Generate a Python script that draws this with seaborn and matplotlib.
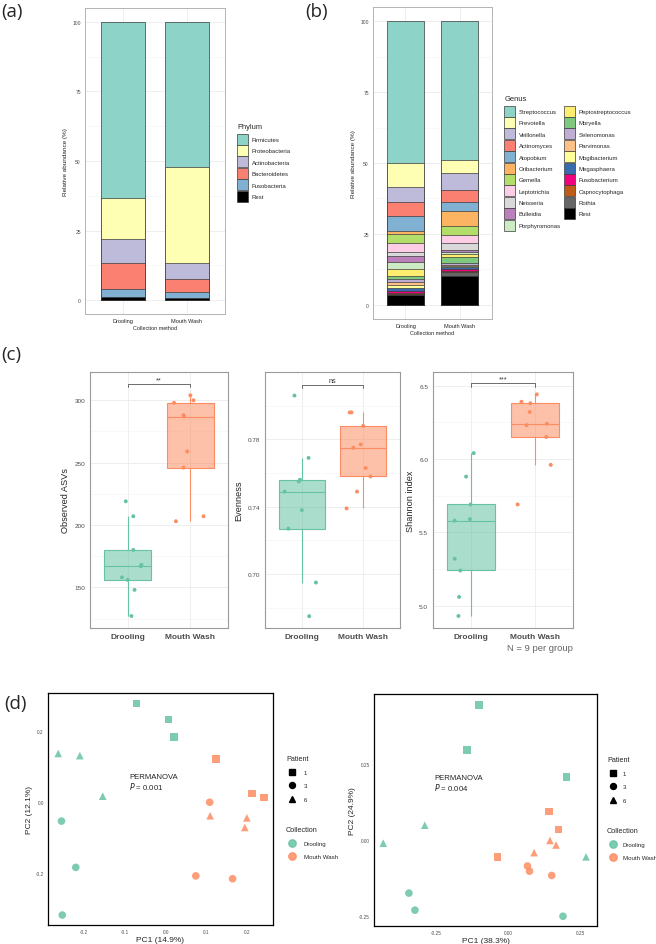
import matplotlib
matplotlib.use('Agg')
import matplotlib.pyplot as plt
from matplotlib.colors import to_rgba
from matplotlib.lines import Line2D
from matplotlib.patches import Patch
from matplotlib.ticker import FixedLocator, FuncFormatter
import numpy as np
import pandas as pd
import seaborn as sns

sns.set_theme(style='white')
plt.rcParams['font.family'] = ['Liberation Sans', 'DejaVu Sans']

# ---------------- data ----------------
methods = ["Drooling", "Mouth Wash"]
pal = ["#66C2A5", "#FC8D62"]

# (a) phylum, top to bottom of the stack
phyla = ["Firmicutes", "Proteobacteria", "Actinobacteria", "Bacteroidetes", "Fusobacteria", "Rest"]
phylum_drool = [63.2, 14.8, 8.6, 9.3, 3.0, 1.1]
phylum_mouth = [52.2, 34.4, 5.9, 4.5, 2.2, 0.8]
phylum_colors = ["#8DD3C7", "#FFFFB3", "#BEBADA", "#FB8072", "#80B1D3", "#000000"]

# (b) genus, top to bottom of the stack
genera = ["Streptococcus", "Prevotella", "Veillonella", "Actinomyces", "Atopobium",
          "Oribacterium", "Gemella", "Leptotrichia", "Neisseria", "Bulleidia",
          "Porphyromonas", "Peptostreptococcus", "Moryella", "Selenomonas", "Parvimonas",
          "Mogibacterium", "Megasphaera", "Fusobacterium", "Capnocytophaga", "Rothia", "Rest"]
genus_drool = [50.0, 8.4, 5.2, 5.2, 5.1, 1.2, 3.2, 3.0, 1.4, 2.3, 2.2, 2.6, 1.1, 1.0, 1.0,
               1.1, 1.2, 0.6, 0.5, 0.3, 3.4]
genus_mouth = [49.1, 4.4, 6.1, 4.2, 3.0, 5.3, 3.3, 2.9, 2.3, 0.9, 0.7, 0.8, 2.3, 0.5, 0.5,
               0.4, 0.5, 0.8, 0.6, 1.2, 10.2]
genus_colors = ["#8DD3C7", "#FFFFB3", "#BEBADA", "#FB8072", "#80B1D3", "#FDB462", "#B3DE69",
                "#FCCDE5", "#D9D9D9", "#BC80BD", "#CCEBC5", "#FFED6F", "#7FC97F", "#BEAED4",
                "#FDC086", "#FFFF99", "#386CB0", "#F0027F", "#BF5B17", "#666666", "#000000"]

# (c) alpha diversity, 9 samples per group; jitter = x offset
asv_drool = [219, 207, 180, 168, 167, 158, 156, 148, 127]
asv_mouth = [304, 300, 298, 288, 287, 259, 246, 207, 203]
asv_jit_drool = [-0.03, 0.09, 0.09, 0.22, 0.21, -0.09, 0.0, 0.11, 0.06]
asv_jit_mouth = [0.0, 0.05, -0.26, -0.11, -0.10, -0.05, -0.11, 0.21, -0.23]

even_drool = [0.806, 0.769, 0.756, 0.755, 0.749, 0.738, 0.727, 0.695, 0.675]
even_mouth = [0.796, 0.796, 0.788, 0.777, 0.775, 0.763, 0.758, 0.749, 0.739]
even_jit_drool = [-0.12, 0.11, -0.03, -0.05, -0.28, 0.0, -0.22, 0.23, 0.12]
even_jit_mouth = [-0.22, -0.19, 0.0, -0.04, -0.16, 0.04, 0.12, -0.10, -0.27]

shan_drool = [6.04, 5.88, 5.69, 5.59, 5.58, 5.32, 5.24, 5.06, 4.93]
shan_mouth = [6.44, 6.39, 6.38, 6.32, 6.24, 6.23, 6.15, 5.96, 5.69]
shan_jit_drool = [0.04, -0.08, -0.01, -0.02, -0.26, -0.26, -0.17, -0.19, -0.20]
shan_jit_mouth = [0.03, -0.21, -0.07, -0.08, 0.19, -0.13, 0.18, 0.25, -0.27]

# (d) PCoA
patients = ["1", "3", "6"]
patient_markers = {"1": "s", "3": "o", "6": "^"}
l_pc1_drool = [-0.071, 0.007, 0.020, -0.263, -0.210, -0.154, -0.255, -0.220, -0.253]
l_pc2_drool = [0.277, 0.232, 0.184, 0.137, 0.131, 0.017, -0.053, -0.183, -0.317]
l_pat_drool = ["1", "1", "1", "6", "6", "6", "3", "3", "3"]
l_pc1_mouth = [0.123, 0.211, 0.241, 0.108, 0.109, 0.199, 0.194, 0.074, 0.164]
l_pc2_mouth = [0.121, 0.025, 0.013, 0.000, -0.038, -0.044, -0.071, -0.207, -0.215]
l_pat_mouth = ["1", "1", "1", "3", "6", "6", "6", "3", "3"]

r_pc1_drool = [-0.100, -0.143, 0.202, -0.289, -0.433, 0.270, -0.344, -0.323, 0.190]
r_pc2_drool = [0.444, 0.297, 0.208, 0.049, -0.010, -0.055, -0.174, -0.230, -0.250]
r_pat_drool = ["1", "1", "1", "6", "6", "6", "3", "3", "3"]
r_pc1_mouth = [0.142, 0.175, -0.037, 0.145, 0.166, 0.090, 0.067, 0.074, 0.151]
r_pc2_mouth = [0.094, 0.035, -0.056, -0.001, -0.016, -0.041, -0.085, -0.102, -0.116]
r_pat_mouth = ["1", "1", "1", "6", "6", "6", "3", "3", "3"]

# ---------------- figure ----------------
W, H = 656, 945
fig = plt.figure(figsize=(W / 100, H / 100), dpi=100)


def add_ax(l, t, r, b):
    return fig.add_axes([l / W, 1 - b / H, (r - l) / W, (b - t) / H])


def ggframe(ax, border='#b3b3b3', lw=0.7):
    for s in ax.spines.values():
        s.set_visible(True)
        s.set_color(border)
        s.set_linewidth(lw)
    ax.set_axisbelow(True)
    ax.grid(True, which='major', color='#ebebeb', linewidth=0.6)
    ax.grid(True, which='minor', color='#f4f4f4', linewidth=0.4)


def stacked_bars(ax, taxa, drool, mouth, colors):
    tops_d = np.cumsum(drool[::-1])[::-1]
    tops_m = np.cumsum(mouth[::-1])[::-1]
    for i in range(len(taxa)):
        sns.barplot(x=methods, y=[tops_d[i], tops_m[i]], color=colors[i], saturation=1,
                    width=0.7, edgecolor='#3a3a3a', linewidth=0.5, ax=ax, zorder=2)
    ax.set_xlim(-0.6, 1.6)
    ax.set_ylim(-5, 105)
    ax.yaxis.set_major_locator(FixedLocator([0, 25, 50, 75, 100]))
    ax.yaxis.set_minor_locator(FixedLocator([12.5, 37.5, 62.5, 87.5]))
    ggframe(ax)
    ax.tick_params(axis='both', labelsize=3.6, colors='#4d4d4d', length=1.5, width=0.4, pad=1.5)
    ax.tick_params(axis='x', labelcolor='#222222', labelsize=4.0)
    ax.set_ylabel("Relative abundance (%)", fontsize=4.6, labelpad=3)
    ax.set_xlabel("Collection method", fontsize=4.0, labelpad=1)


def taxa_legend(colors, labels, title, x, y, ncol):
    handles = [Patch(facecolor=c, edgecolor='#3a3a3a', linewidth=0.5) for c in colors]
    leg = fig.legend(handles, labels, title=title, loc='upper left', ncol=ncol,
                     bbox_to_anchor=(x / W, 1 - y / H), frameon=False, fontsize=4.3,
                     title_fontsize=5.4, alignment='left', handlelength=1.85,
                     handleheight=2.45, labelspacing=0.07, handletextpad=0.55,
                     columnspacing=0.6, borderpad=0.2)
    leg._legend_box.sep = 2.5   # a bit more room under the title, like ggplot


# (a)
ax_a = add_ax(85, 9, 225, 315)
stacked_bars(ax_a, phyla, phylum_drool, phylum_mouth, phylum_colors)
taxa_legend(phylum_colors, phyla, "Phylum", 233, 120, 1)

# (b)
ax_b = add_ax(373, 8, 492, 320)
stacked_bars(ax_b, genera, genus_drool, genus_mouth, genus_colors)
taxa_legend(genus_colors, genera, "Genus", 500, 92, 2)


# (c)
def alpha_panel(ax, drool, mouth, jit_d, jit_m, ylabel, ylim, major, minor, star):
    df = pd.DataFrame({
        'method': [methods[0]] * len(drool) + [methods[1]] * len(mouth),
        'value': drool + mouth,
        'xpos': [0 + j for j in jit_d] + [1 + j for j in jit_m],
    })
    for i, m in enumerate(methods):
        sub = df[df['method'] == m]
        sns.boxplot(data=sub, x='method', y='value', order=methods, color=pal[i],
                    linecolor=pal[i], width=0.75, showcaps=False, showfliers=False,
                    linewidth=0.8, saturation=1, ax=ax)
        ax.patches[-1].set_facecolor(to_rgba(pal[i], 0.55))
    sns.scatterplot(data=df, x='xpos', y='value', hue='method', palette=pal, s=8,
                    linewidth=0, legend=False, ax=ax, zorder=3)
    ax.set_xlim(-0.6, 1.6)
    ax.set_ylim(*ylim)
    ax.yaxis.set_major_locator(FixedLocator(major))
    ax.yaxis.set_minor_locator(FixedLocator(minor))
    ax.set_xticks([0, 1])
    ax.set_xticklabels(methods)
    ggframe(ax, border='#9a9a9a', lw=0.8)
    ax.tick_params(axis='y', labelsize=4.6, colors='#4d4d4d', length=2, width=0.5, pad=1.5)
    ax.tick_params(axis='x', labelsize=6.0, colors='#4d4d4d', length=2, width=0.5, pad=1.5)
    for t in ax.get_xticklabels():
        t.set_fontweight('bold')
    ax.set_xlabel("")
    ax.set_ylabel(ylabel, fontsize=6.6, labelpad=3)
    # significance bracket above the highest point
    span = ylim[1] - ylim[0]
    yb = max(drool + mouth) + 0.043 * span
    tick = 0.012 * span
    ax.plot([0, 0, 1, 1], [yb - tick, yb, yb, yb - tick], color='#555555', lw=0.6)
    ax.text(0.5, yb + 0.004 * span, star, ha='center', va='bottom', fontsize=5.2, color='#333333')


ax_c1 = add_ax(90, 373, 228, 629)
alpha_panel(ax_c1, asv_drool, asv_mouth, asv_jit_drool, asv_jit_mouth, "Observed ASVs",
            (117.4, 322.7), [150, 200, 250, 300], [125, 175, 225, 275, 325], "**")
ax_c2 = add_ax(265, 373, 400, 629)
alpha_panel(ax_c2, even_drool, even_mouth, even_jit_drool, even_jit_mouth, "Evenness",
            (0.668, 0.820), [0.70, 0.74, 0.78], [0.68, 0.72, 0.76, 0.80], "ns")
ax_c3 = add_ax(433, 373, 573, 629)
alpha_panel(ax_c3, shan_drool, shan_mouth, shan_jit_drool, shan_jit_mouth, "Shannon index",
            (4.848, 6.593), [5.0, 5.5, 6.0, 6.5], [5.25, 5.75, 6.25], "***")
ax_c3.set_xlabel("N = 9 per group", loc='right', fontsize=6.8, color='#666666', labelpad=2)
ax_c2.yaxis.set_major_formatter(FuncFormatter(lambda v, p: f"{v:.2f}"))
ax_c3.yaxis.set_major_formatter(FuncFormatter(lambda v, p: f"{v:.1f}"))


# (d)
def pcoa_panel(ax, pc1_d, pc2_d, pat_d, pc1_m, pc2_m, pat_m, xlim, ylim, xt, yt, fmt,
               xlabel, ylabel, ptext):
    df = pd.DataFrame({
        'PC1': pc1_d + pc1_m,
        'PC2': pc2_d + pc2_m,
        'Patient': pat_d + pat_m,
        'Collection': [methods[0]] * len(pc1_d) + [methods[1]] * len(pc1_m),
    })
    sns.scatterplot(data=df, x='PC1', y='PC2', hue='Collection', style='Patient',
                    palette=pal, markers=patient_markers, s=30, alpha=0.85, linewidth=0,
                    legend=False, ax=ax)
    ax.set_xlim(*xlim)
    ax.set_ylim(*ylim)
    ax.set_xticks(xt)
    ax.set_yticks(yt)
    ax.xaxis.set_major_formatter(FuncFormatter(lambda v, p: fmt % v))
    ax.yaxis.set_major_formatter(FuncFormatter(lambda v, p: fmt % v))
    for s in ax.spines.values():
        s.set_visible(True)
        s.set_color('black')
        s.set_linewidth(0.9)
    ax.grid(False)
    ax.tick_params(axis='both', labelsize=3.4, colors='#4d4d4d', length=1.5, width=0.4, pad=1.5)
    ax.set_xlabel(xlabel, fontsize=6.0, labelpad=1)
    ax.set_ylabel(ylabel, fontsize=6.0, labelpad=2)
    ax.text(ptext[0], ptext[1], "PERMANOVA", transform=ax.transAxes, fontsize=5.6,
            ha='left', va='center')
    ax.text(ptext[0], ptext[1] - 0.04, ptext[2], transform=ax.transAxes, fontsize=5.6,
            ha='left', va='center')


def pcoa_legend(x, y, textpad):
    opts = dict(loc='upper left', frameon=False, fontsize=4.4, title_fontsize=5.2,
                alignment='left', handlelength=2.0, handletextpad=textpad,
                labelspacing=1.3, borderpad=0)
    pat_h = [Line2D([], [], linestyle='none', marker=patient_markers[p], color='black',
                    markersize=4.3) for p in patients]
    fig.legend(pat_h, patients, title="Patient", bbox_to_anchor=(x / W, 1 - y / H), **opts)
    col_h = [Line2D([], [], linestyle='none', marker='o', color=c, alpha=0.85,
                    markersize=5.3) for c in pal]
    fig.legend(col_h, methods, title="Collection",
               bbox_to_anchor=(x / W, 1 - (y + 71) / H), **opts)


ax_d1 = add_ax(48, 694, 273, 926)
pcoa_panel(ax_d1, l_pc1_drool, l_pc2_drool, l_pat_drool, l_pc1_mouth, l_pc2_mouth, l_pat_mouth,
           (-0.288, 0.263), (-0.345, 0.307), [-0.2, -0.1, 0.0, 0.1, 0.2], [-0.2, 0.0, 0.2],
           "%.1f", "PC1 (14.9%)", "PC2 (12.1%)", (0.36, 0.64, r"$\it{P}$ = 0.001"))
pcoa_legend(283, 753, 0.9)

ax_d2 = add_ax(374, 695, 597, 927)
pcoa_panel(ax_d2, r_pc1_drool, r_pc2_drool, r_pat_drool, r_pc1_mouth, r_pc2_mouth, r_pat_mouth,
           (-0.465, 0.308), (-0.282, 0.480), [-0.25, 0.0, 0.25], [-0.25, 0.0, 0.25],
           "%.2f", "PC1 (38.3%)", "PC2 (24.9%)", (0.27, 0.64, r"$\it{P}$ = 0.004"))
pcoa_legend(604, 754, 0.6)

# panel letters
for lab, x, y in [("(a)", 1, 12), ("(b)", 305, 12), ("(c)", 1, 355), ("(d)", 4, 704)]:
    fig.text(x / W, 1 - y / H, lab, fontsize=13.5, ha='left', va='center',
             family=['Open Sans', 'DejaVu Sans'])

fig.savefig("out.png", dpi=100, facecolor='white')
